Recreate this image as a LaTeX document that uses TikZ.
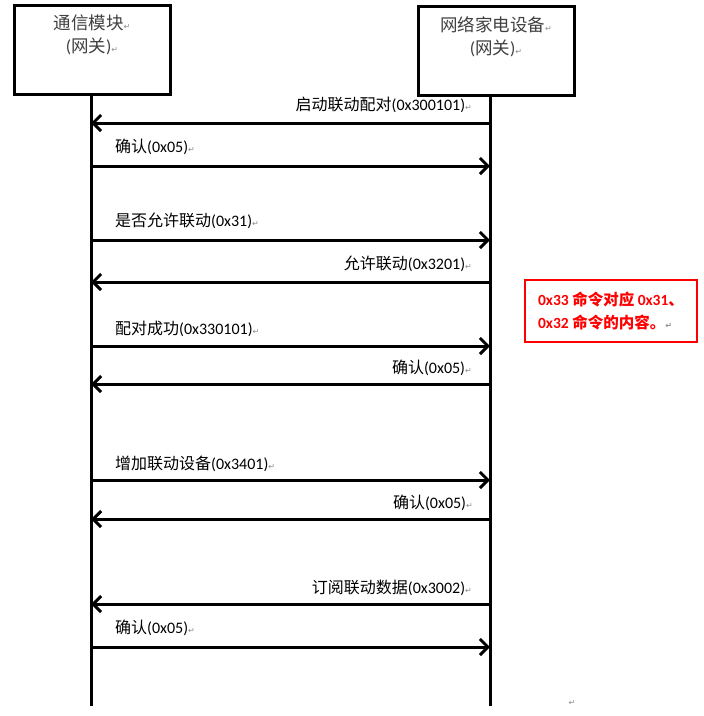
\documentclass[tikz,border=0pt]{standalone}
\usepackage{fontspec}
\setmainfont{Carlito}
\newfontfamily\cjk{Noto Sans CJK SC}
\newfontfamily\symb{DejaVu Sans}
\usetikzlibrary{arrows.meta}
\newcommand{\ret}{{\symb\fontsize{8}{8}\selectfont\color{black!45}↵}}

\begin{document}
\begin{tikzpicture}[x=1pt,y=-1pt]

\useasboundingbox[fill=white] (0,0) rectangle (704,716);

\tikzstyle{unit}=[draw=black, line width=3pt, shape=rectangle, minimum width=156pt,
minimum height=89pt, align=center, text=black!75, font=\fontsize{17.5}{23}\selectfont];
\tikzstyle{life}=[line width=3pt];
\tikzstyle{msg}=[line width=3pt, -{Straight Barb[length=8pt,width=16pt,line width=3pt]}];
\tikzstyle{lblL}=[anchor=west, inner sep=0pt, font=\fontsize{16}{18}\selectfont];
\tikzstyle{lblR}=[anchor=east, inner sep=0pt, font=\fontsize{16}{18}\selectfont];
\tikzstyle{note}=[draw=red, line width=2.5pt, text=red, align=left, inner xsep=0pt,
minimum width=172pt, minimum height=62pt, font=\bfseries\fontsize{15.5}{23}\selectfont];

\node[unit] (mod) at (92,49.5) {{\cjk 通信模块}\ret\\({\cjk 网关})\ret\\[8pt]~};
\node[unit] (dev) at (496,51) {{\cjk 网络家电设备}\ret\\({\cjk 网关})\ret\\[8pt]~};

\coordinate (modend) at (91,706);
\coordinate (devend) at (490,706);

% lifelines
\draw[life] (modend |- mod.south) -- (modend);
\draw[life] (devend |- dev.south) -- (devend);

\foreach \n/\y in {1/123, 2/166, 3/240, 4/282, 5/346, 6/384, 7/480, 8/519, 9/604, 10/647}
{
  \coordinate (l\n) at (91,\y);
  \coordinate (r\n) at (490,\y);
}

% messages
\draw[msg] (r1) -- (l1);
\draw[msg] (l2) -- (r2);
\draw[msg] (l3) -- (r3);
\draw[msg] (r4) -- (l4);
\draw[msg] (l5) -- (r5);
\draw[msg] (r6) -- (l6);
\draw[msg] (l7) -- (r7);
\draw[msg] (r8) -- (l8);
\draw[msg] (r9) -- (l9);
\draw[msg] (l10) -- (r10);

\node[lblR] (t1) at (472,105) {{\cjk 启动联动配对}(0x300101)\ret};
\node[lblL] (t2) at (115,147) {{\cjk 确认}(0x05)\ret};
\node[lblL] (t3) at (115,221) {{\cjk 是否允许联动}(0x31)\ret};
\node[lblR] (t4) at (472,264) {{\cjk 允许联动}(0x3201)\ret};
\node[lblL] (t5) at (115,329) {{\cjk 配对成功}(0x330101)\ret};
\node[lblR] (t6) at (472,368) {{\cjk 确认}(0x05)\ret};
\node[lblL] (t7) at (115,464) {{\cjk 增加联动设备}(0x3401)\ret};
\node[lblR] (t8) at (473,503) {{\cjk 确认}(0x05)\ret};
\node[lblR] (t9) at (472,588) {{\cjk 订阅联动数据}(0x3002)\ret};
\node[lblL] (t10) at (115,628) {{\cjk 确认}(0x05)\ret};

\node[note] (remark) at (611,311) {0x33 {\cjk 命令对应} 0x31{\cjk 、}\\0x32 {\cjk 命令的内容。}\ret};

\node[inner sep=0pt] (endmark) at (572,703) {\ret};

\end{tikzpicture}
\end{document}
